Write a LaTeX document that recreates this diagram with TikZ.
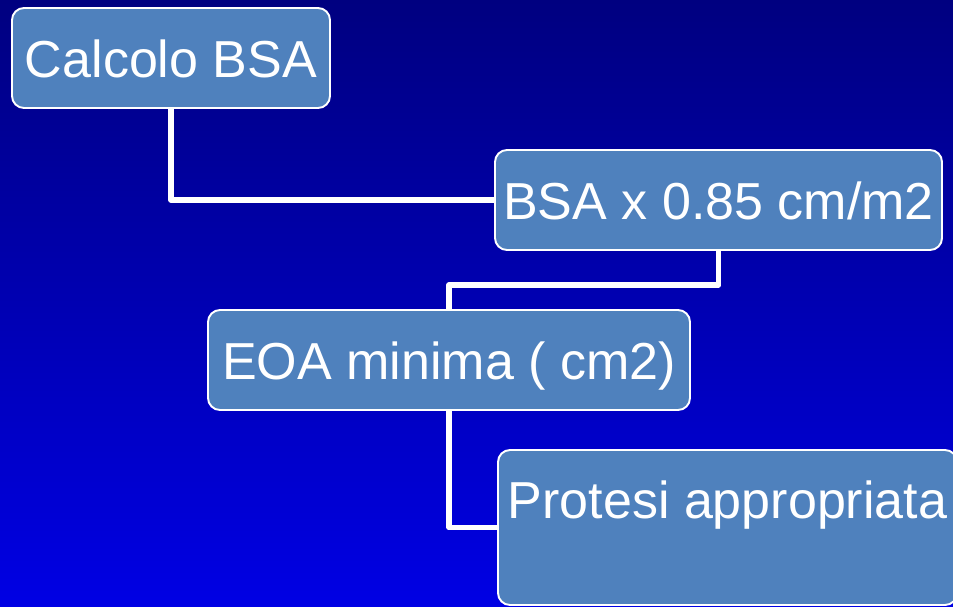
\documentclass[tikz,border=0pt]{standalone}
\usepackage{fontspec}
\setmainfont{Liberation Sans}
\begin{document}
\begin{tikzpicture}[line join=round,
		box/.style={draw=white, line width=1.1pt, fill=boxblue, rounded corners=0.24cm,
			text=white, font=\fontsize{29.6}{35}\selectfont, inner sep=0pt,
			text height=0.78cm, text depth=0cm, minimum height=2cm},
		link/.style={draw=white, line width=3.2pt}]
				\definecolor{boxblue}{RGB}{79,129,189}
				\definecolor{bgtop}{RGB}{0,0,128}
				\definecolor{bgbot}{RGB}{0,0,228}
				\def\w{19.06}
				\def\h{12.12}
				\useasboundingbox (0,0) rectangle (\w,-\h);
				\clip (0,0) rectangle (\w,-\h);
				\shade[top color=bgtop, bottom color=bgbot] (0,0) rectangle (\w,-\h);
				\node[box, minimum width=6.36cm] (bsa) at (3.42,-1.16) {Calcolo BSA};
				\node[box, minimum width=8.94cm] (idx) at (14.37,-4.0) {BSA x 0.85 cm/m2};
				\node[box, minimum width=9.64cm] (eoa) at (8.98,-7.2) {EOA minima ( cm2)};
				\node[box, minimum width=9.18cm, minimum height=3.1cm, text height=1.36cm, text depth=1.74cm] (prot) at (14.55,-10.55) {Protesi appropriata};
				\draw[link] (bsa.south) |- (idx.west);
				\draw[link] (idx.south) -- ++(0,-0.68) -| (eoa.north);
				\draw[link] (eoa.south) |- (prot.west);
		\end{tikzpicture}
\end{document}
